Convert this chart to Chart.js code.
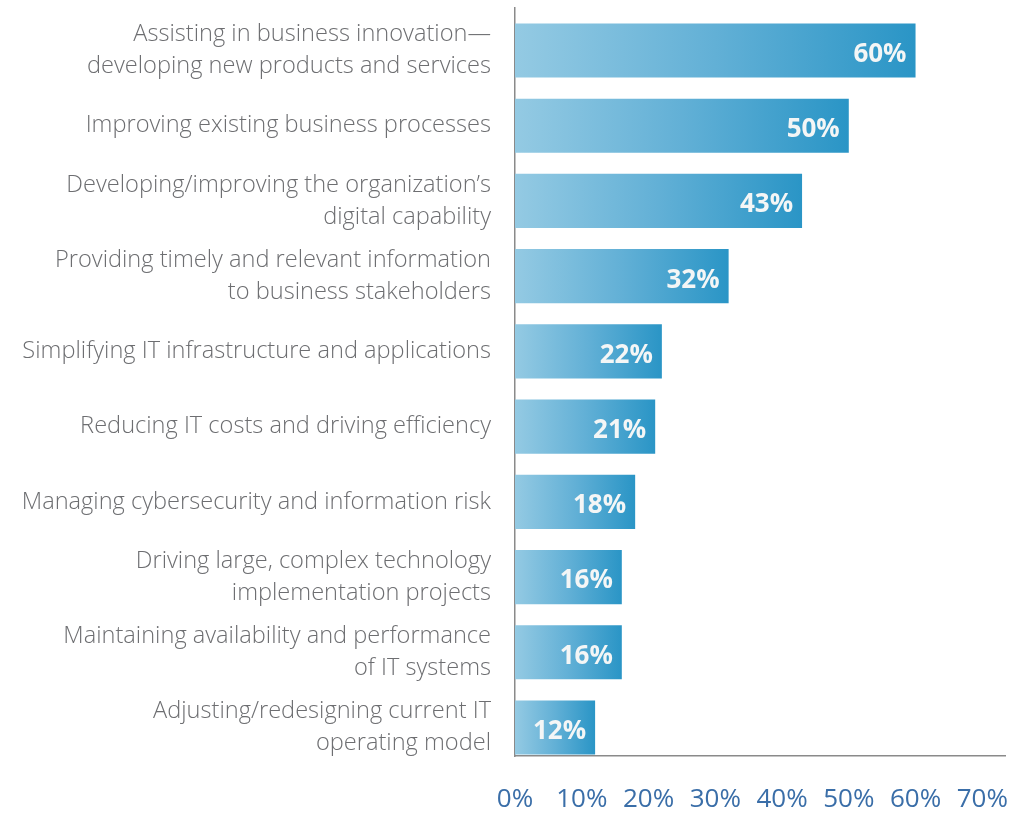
<!DOCTYPE html>
<html>
<head>
<meta charset="utf-8">
<script src="https://cdn.jsdelivr.net/npm/chart.js@4"></script>
<style>
  body { margin: 0; background: #fff; }
  #wrap { width: 1017px; height: 814px; position: relative; }
</style>
</head>
<body>
<div id="wrap"><canvas id="myChart"></canvas></div>
<script>
// chart data
var categories = [
    ['Assisting in business innovation\u2014', 'developing new products and services'],
    'Improving existing business processes',
    ['Developing/improving the organization\u2019s', 'digital capability'],
    ['Providing timely and relevant information', 'to business stakeholders'],
    'Simplifying IT infrastructure and applications',
    'Reducing IT costs and driving efficiency',
    'Managing cybersecurity and information risk',
    ['Driving large, complex technology', 'implementation projects'],
    ['Maintaining availability and performance', 'of IT systems'],
    ['Adjusting/redesigning current IT', 'operating model']
];
var values = [60, 50, 43, 32, 22, 21, 18, 16, 16, 12];
var tickValues = [0, 10, 20, 30, 40, 50, 60, 70];

document.addEventListener('DOMContentLoaded', function () {
    var ctx = document.getElementById('myChart').getContext('2d');

    var points = values.map(function (v, i) { return { x: v, y: i }; });

    function barGradient(c) {
        var chart = c.chart;
        if (!chart.chartArea || c.type !== 'data') return '#5aaed6';
        var x0 = chart.scales.x.getPixelForValue(0);
        var x1 = chart.scales.x.getPixelForValue(c.raw.x);
        var g = chart.ctx.createLinearGradient(x0, 0, x1, 0);
        g.addColorStop(0, '#94cae3');
        g.addColorStop(0.5, '#62b0d6');
        g.addColorStop(1, '#2a95c6');
        return g;
    }

    var valueLabels = {
        id: 'valueLabels',
        afterDatasetsDraw: function (chart) {
            var c = chart.ctx;
            var meta = chart.getDatasetMeta(0);
            c.save();
            c.font = 'bold 26px "Open Sans"';
            c.fillStyle = '#f4f6f6';
            c.textAlign = 'right';
            c.textBaseline = 'middle';
            meta.data.forEach(function (bar, i) {
                c.fillText(values[i] + '%', bar.x - 9, bar.y + 4);
            });
            c.restore();
        }
    };

    var myChart = new Chart(ctx, {
        type: 'bar',
        data: {
            datasets: [{
                data: points,
                backgroundColor: barGradient,
                borderWidth: 0,
                barPercentage: 0.72,
                categoryPercentage: 1
            }]
        },
        options: {
            indexAxis: 'y',
            responsive: true,
            maintainAspectRatio: false,
            animation: false,
            layout: { padding: { top: 8, right: 12, left: 0, bottom: 0 } },
            plugins: {
                legend: { display: false },
                tooltip: { enabled: false }
            },
            scales: {
                x: {
                    type: 'linear',
                    bounds: 'data',
                    offset: false,
                    min: 0,
                    max: 73.4,
                    grid: { display: false, drawTicks: false },
                    border: { display: true, color: '#8a8a8a', width: 1.5 },
                    ticks: {
                        padding: 28,
                        color: '#3a6ea8',
                        font: { family: 'Open Sans', size: 26 },
                        callback: function (v) { return v + '%'; }
                    },
                    afterBuildTicks: function (scale) {
                        scale.ticks = tickValues.map(function (v) { return { value: v }; });
                    },
                    afterFit: function (scale) {
                        scale.height = 58;
                        scale.paddingLeft = 0;
                        scale.paddingRight = 0;
                    }
                },
                y: {
                    type: 'linear',
                    bounds: 'data',
                    offset: false,
                    reverse: true,
                    min: -0.565,
                    max: 9.379,
                    grid: { display: false, drawTicks: false },
                    border: { display: true, color: '#8a8a8a', width: 1.5 },
                    ticks: {
                        padding: 24,
                        color: '#6d6e71',
                        font: { family: 'Open Sans', size: 23.6, weight: 300, lineHeight: 1.36 },
                        callback: function (v) { return categories[v]; }
                    },
                    afterBuildTicks: function (scale) {
                        scale.ticks = categories.map(function (c, i) { return { value: i }; });
                    },
                    afterFit: function (scale) {
                        scale.width = 515;
                        scale.paddingTop = 0;
                        scale.paddingBottom = 0;
                    }
                }
            }
        },
        plugins: [valueLabels]
    });
});
</script>
</body>
</html>
